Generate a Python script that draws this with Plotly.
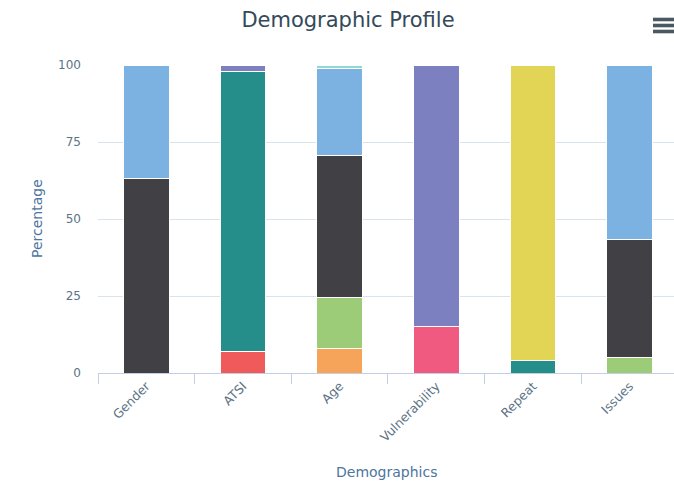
import plotly.graph_objects as go

# Categories along the x axis
categories = ["Gender", "ATSI", "Age", "Vulnerability", "Repeat", "Issues"]

# Stacked segment values (percent), listed bottom-to-top in stacking order
red = [None, 7, None, None, None, None]
orange = [None, None, 8, None, None, None]
pink = [None, None, None, 15, None, None]
teal = [None, 91, None, None, 4, None]
green = [None, None, 16.5, None, None, 5]
dark = [63, None, 46, None, None, 38.5]
yellow = [None, None, None, None, 96, None]
purple = [None, 2, None, 85, None, None]
blue = [37, None, 28.5, None, None, 56.5]
light_teal = [None, None, 1, None, None, None]

y_ticks = [0, 25, 50, 75, 100]

series = [
    ("Red", red, "#f05a5a"),
    ("Orange", orange, "#f5a45a"),
    ("Pink", pink, "#f05a80"),
    ("Teal", teal, "#268e8a"),
    ("Green", green, "#9ccc78"),
    ("Dark", dark, "#414145"),
    ("Yellow", yellow, "#e2d455"),
    ("Purple", purple, "#7c80c0"),
    ("Blue", blue, "#7cb2e2"),
    ("Light teal", light_teal, "#8fd8d6"),
]

FONT = "DejaVu Sans"
W, H = 674, 485
ML, MR, MT, MB = 98, 0, 65, 112
plot_w = W - ML - MR
plot_h = H - MT - MB

fig = go.Figure()
for name, vals, color in series:
    fig.add_trace(go.Bar(
        x=categories, y=vals, name=name,
        marker=dict(color=color, line=dict(color="white", width=1)),
        showlegend=False,
    ))

# Menu icon (three bars) in the top-right corner
def px_to_paper(px, py):
    return (px - ML) / plot_w, (H - MB - py) / plot_h

shapes = []
for cy in (19.5, 25.5, 31.5):
    x0, y0 = px_to_paper(653, cy - 1.8)
    x1, y1 = px_to_paper(674, cy + 1.8)
    shapes.append(dict(type="rect", xref="paper", yref="paper",
                       x0=x0, x1=x1, y0=y0, y1=y1,
                       fillcolor="#4a5860", line=dict(width=0), layer="above"))

fig.update_layout(
    width=W, height=H,
    margin=dict(l=ML, r=MR, t=MT, b=MB, autoexpand=False),
    paper_bgcolor="white", plot_bgcolor="white",
    barmode="stack", bargap=0.525,
    font=dict(family=FONT, color="#5b7386", size=12),
    title=dict(text="Demographic Profile", xref="container", yref="container",
               x=348 / W, y=1 - 20 / H, xanchor="center", yanchor="middle",
               font=dict(family=FONT, size=21, color="#34495a")),
    xaxis=dict(
        type="category", range=[-0.5, 5.5 - 4 / 97],
        tickson="boundaries", ticks="outside", ticklen=10, tickcolor="#c0d0e0",
        showline=True, linecolor="#c0d0e0", linewidth=1,
        showgrid=False, tickangle=-45,
        tickfont=dict(family=FONT, size=12.5, color="#5b7386"),
    ),
    yaxis=dict(
        range=[0, 100], tickvals=y_ticks, showline=False,
        gridcolor="#d9e3eb", zeroline=False, ticks="",
        ticklabelstandoff=16,
        tickfont=dict(family=FONT, size=12, color="#5b7386"),
    ),
    shapes=shapes,
    annotations=[
        dict(text="Demographics", xref="paper", yref="paper", x=0.5, y=0,
             yshift=-99, showarrow=False, xanchor="center", yanchor="middle",
             font=dict(family=FONT, size=14, color="#4d759e")),
        dict(text="Percentage", xref="paper", yref="paper", x=0, y=0.5,
             xshift=-61, textangle=-90, showarrow=False,
             xanchor="center", yanchor="middle",
             font=dict(family=FONT, size=14, color="#4d759e")),
    ],
)

fig.write_html("out.html", config={"displayModeBar": False})
